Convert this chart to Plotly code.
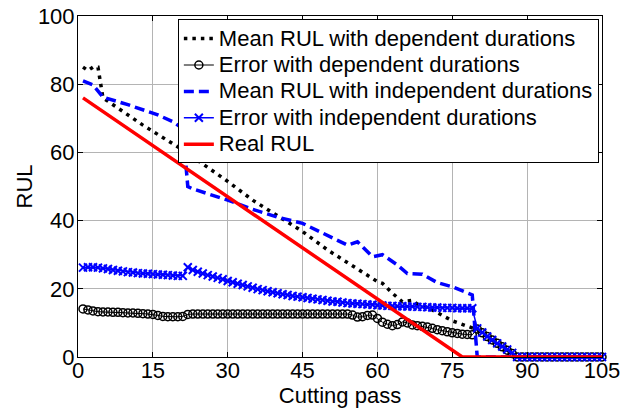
import plotly.graph_objects as go

# ---- data ----
passes = list(range(1, 106))

err_dep = [14.1, 13.8, 13.5, 13.3, 13.2,
           13.2, 13.1, 13.1, 13.0, 12.9,
           12.9, 12.8, 12.7, 12.6, 12.5,
           12.2, 11.9, 11.8, 11.8, 11.8, 11.9,
           12.5, 12.6, 12.6, 12.6, 12.6, 12.6, 12.6, 12.6, 12.6, 12.6, 12.6, 12.6, 12.6, 12.6,
           12.6, 12.6, 12.6, 12.6, 12.6, 12.6, 12.6, 12.6, 12.6, 12.6,
           12.6, 12.6, 12.6, 12.6, 12.6, 12.6, 12.6, 12.6, 12.6, 12.3,
           11.7, 11.8, 12.2, 12.3, 11.3,
           10.2, 9.6, 9.2, 9.5, 10.3, 10.0, 9.4, 9.2, 9.0, 8.8,
           8.4, 8.0, 7.7, 7.4, 7.1, 6.9, 6.7, 6.6, 6.5,
           8.2, 7.1, 6.0, 5.0, 4.0, 3.0, 2.0, 1.0,
           0, 0, 0, 0, 0, 0, 0, 0, 0, 0, 0, 0, 0, 0, 0, 0, 0, 0]

err_indep = [26.2, 26.3, 26.3, 26.2, 26.0,
             25.8, 25.5, 25.3, 25.1, 24.9,
             24.8, 24.6, 24.5, 24.4, 24.3,
             24.2, 24.1, 24.0, 23.9, 23.8, 23.8,
             26.3,
             25.5, 25.0, 24.5, 24.0, 23.6, 23.2, 22.8, 22.3,
             21.9, 21.5, 21.1, 20.7, 20.3,
             19.9, 19.6, 19.3, 19.0, 18.7, 18.4, 18.2, 17.9, 17.7, 17.5,
             17.3, 17.1, 16.9, 16.7, 16.5, 16.3, 16.2, 16.0, 15.8, 15.7,
             15.6, 15.5, 15.4, 15.3, 15.2,
             15.1, 15.0, 15.0, 14.9, 14.9, 14.8, 14.8, 14.7, 14.7, 14.6,
             14.5, 14.5, 14.4, 14.4, 14.4, 14.3, 14.3, 14.3, 14.3,
             8.4, 7.2, 6.0, 5.0, 4.0, 3.1, 2.2, 1.2,
             0, 0, 0, 0, 0, 0, 0, 0, 0, 0, 0, 0, 0, 0, 0, 0, 0, 0]

mean_dep_x = [1, 2, 3, 4, 5, 13, 21, 30, 35, 45, 50, 55, 60, 61, 63, 65, 67, 68, 71, 75, 79, 80, 84, 88, 105]
mean_dep_y = [85, 84, 85, 85, 76, 68, 60.7, 51.5, 46, 36.8, 31.4, 26.8, 22.1, 21.6, 18.7, 16.2, 16.6, 15.5,
              13.8, 10.6, 8.4, 8.0, 4.0, 0, 0]

mean_ind_x = [1, 3, 5, 10, 16, 19, 21, 22, 23, 30, 35, 40, 45, 49, 52, 54, 56, 59, 61, 64, 66, 69, 72, 75, 79, 80, 105]
mean_ind_y = [81, 79.8, 76.2, 74, 71, 69, 67, 50, 49.3, 46, 43.3, 41, 39.2, 36.3, 34, 32.8, 33.8, 29.4, 30, 27,
              24.5, 24.3, 21.8, 20.6, 18.2, 0, 0]

real_x = [1, 77, 105]
real_y = [76, 0, 0]

x_ticks = [0, 15, 30, 45, 60, 75, 90, 105]
y_ticks = [0, 20, 40, 60, 80, 100]

series_names = ["Mean RUL with dependent durations",
                "Error with dependent durations",
                "Mean RUL with independent durations",
                "Error with independent durations",
                "Real RUL"]

FONT = "Arial, Liberation Sans, sans-serif"


def lg(name):
    return '<span style="font-size:22px">' + name + '</span>'


fig = go.Figure()
fig.add_trace(go.Scatter(x=mean_dep_x, y=mean_dep_y, mode="lines",
                         name=lg(series_names[0]),
                         line=dict(color="black", width=3.5, dash="3.5px,5px")))
fig.add_trace(go.Scatter(x=passes, y=err_dep, mode="lines+markers",
                         name=lg(series_names[1]), cliponaxis=False,
                         line=dict(color="black", width=1),
                         marker=dict(symbol="circle-open", size=8, color="black",
                                     line=dict(width=1.5, color="black"))))
fig.add_trace(go.Scatter(x=mean_ind_x, y=mean_ind_y, mode="lines",
                         name=lg(series_names[2]),
                         line=dict(color="#0000FF", width=3.5, dash="10px,5px")))
fig.add_trace(go.Scatter(x=passes, y=err_indep, mode="lines+markers",
                         name=lg(series_names[3]), cliponaxis=False,
                         line=dict(color="#0000FF", width=1.5),
                         marker=dict(symbol="x-thin", size=8, color="#0000FF",
                                     line=dict(width=2, color="#0000FF"))))
fig.add_trace(go.Scatter(x=real_x, y=real_y, mode="lines", name=lg(series_names[4]),
                         line=dict(color="#FF0000", width=3.5)))

axis_common = dict(showline=True, linecolor="black", linewidth=1, mirror="allticks",
                   ticks="inside", ticklen=5, tickcolor="black", automargin=False,
                   showgrid=True, gridcolor="#b4b4b4", gridwidth=1, zeroline=False,
                   tickfont=dict(family=FONT, size=22, color="black"))

fig.update_xaxes(range=[0, 105], tickvals=x_ticks, ticktext=[str(v) for v in x_ticks],
                 ticklabelstandoff=-6,
                 title=dict(text="Cutting pass", font=dict(family=FONT, size=22, color="black"), standoff=7),
                 **axis_common)
fig.update_yaxes(range=[0, 100], tickvals=y_ticks, ticktext=[str(v) for v in y_ticks],
                 ticklabelstandoff=-2,
                 **axis_common)

fig.add_annotation(text="RUL", textangle=-90, xref="paper", yref="paper",
                   x=(24 - 78) / 524, y=0.5, xanchor="center", yanchor="middle",
                   showarrow=False, font=dict(family=FONT, size=22, color="black"))

fig.update_layout(
    width=629, height=408,
    margin=dict(l=78, r=27, t=16, b=51, autoexpand=False),
    paper_bgcolor="white", plot_bgcolor="white",
    font=dict(family=FONT, size=22, color="black"),
    showlegend=True,
    legend=dict(x=0.994, xanchor="right", y=0.99, yanchor="top",
                bgcolor="white", bordercolor="black", borderwidth=1,
                font=dict(family=FONT, size=18, color="black"),
                itemwidth=30, tracegroupgap=0),
)

fig.write_html("out.html")
